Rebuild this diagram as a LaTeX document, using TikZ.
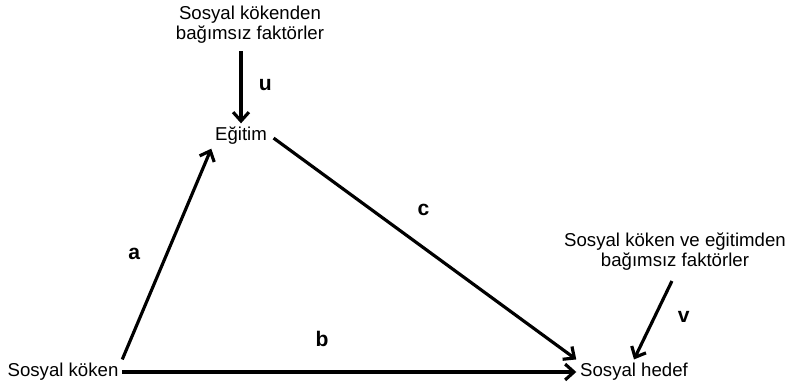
\documentclass[tikz,border=0pt]{standalone}
\usepackage{fontspec}
\setmainfont{Liberation Sans}
\usetikzlibrary{arrows.meta}

\tikzset{
    begriff/.style={inner sep=2pt, font=\fontsize{10.6}{11.4}\selectfont, align=center},
    pfad/.style={line width=1.8pt, -{Straight Barb[length=5pt, width=9pt, line width=1.8pt]}},
    koeff/.style={font=\fontsize{12}{14}\selectfont\bfseries}
}

\begin{document}
\begin{tikzpicture}
    \useasboundingbox (0,0) rectangle (15.76,7.76);
    \path node[begriff] (F1) at (5.0,7.26) {Sosyal kökenden\\bağımsız faktörler}
        node[begriff] (E) at (4.82,5.04) {Eğitim}
        node[begriff] (K) at (1.26,0.32) {Sosyal köken}
        node[begriff] (H) at (12.68,0.32) {Sosyal hedef}
        node[begriff] (F2) at (13.5,2.72) {Sosyal köken ve eğitimden\\bağımsız faktörler};
    \draw[pfad, shorten <=2pt] (F1.south -| E.north) -- node[koeff, right=6pt] {u} (E.north);
    \draw[pfad] (K.north east) -- node[koeff, left=11pt] {a} (E.south west);
    \draw[pfad, shorten <=2pt] (E.east) -- node[koeff, above=14pt] {c} (H.north west);
    \draw[pfad] (K) -- node[koeff, pos=0.44, above=10pt] {b} (H);
    \draw[pfad, shorten <=4pt] (F2.south) -- node[koeff, right=9pt] {v} (H.north);
\end{tikzpicture}
\end{document}
